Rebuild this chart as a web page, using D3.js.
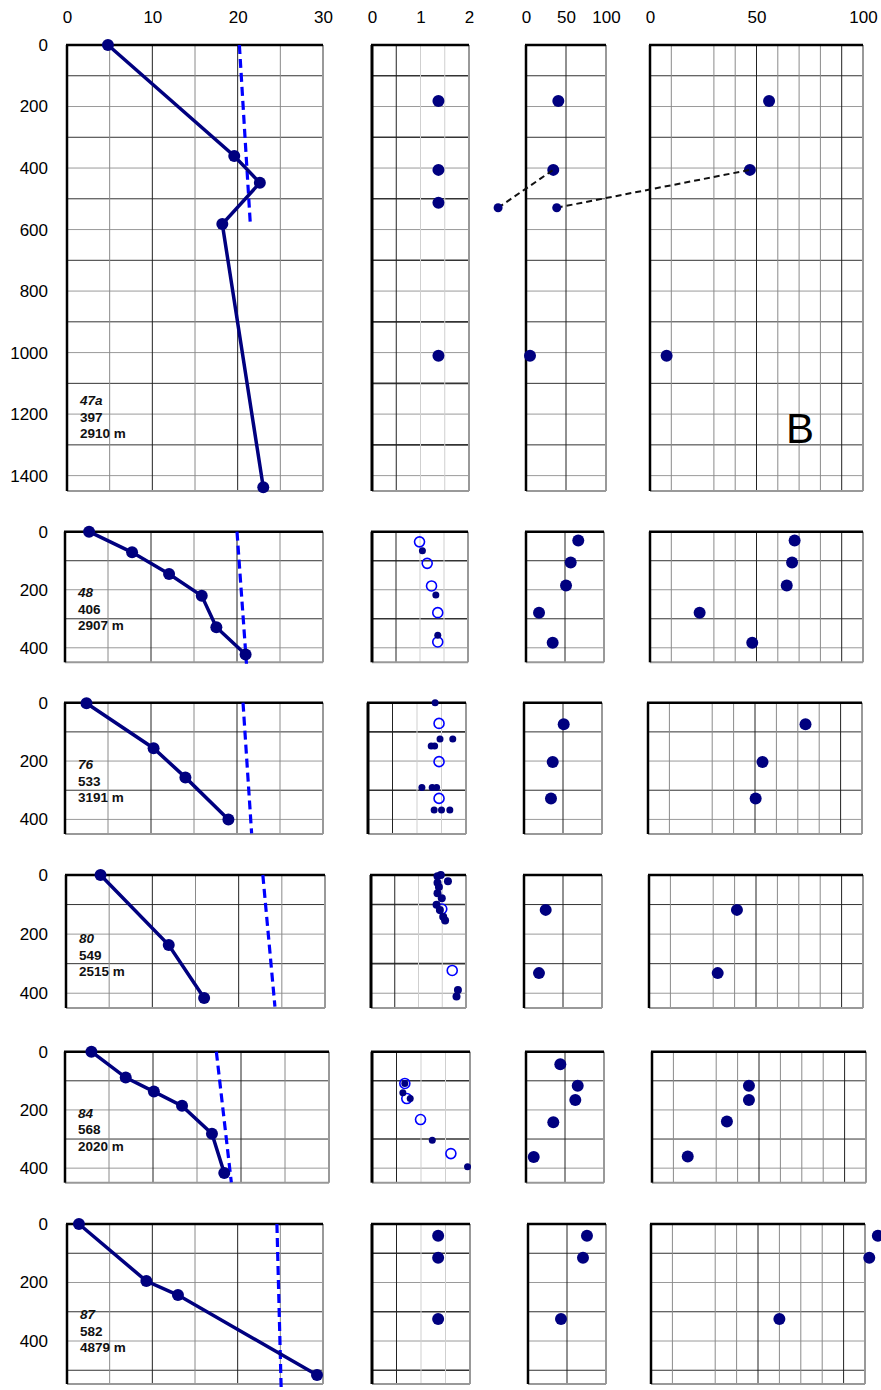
<!DOCTYPE html>
<html>
<head>
<meta charset="utf-8">
<script src="https://cdn.jsdelivr.net/npm/d3@7"></script>
<style>
  body { margin: 0; background: #fff; }
  svg { display: block; }
  text { font-family: "Liberation Sans", Arial, sans-serif; }
</style>
</head>
<body>
<svg id="chart" width="881" height="1390"></svg>
<script>
// wells, one row each
var wells = ["47a", "48", "76", "80", "84", "87"];
var wellCodes = ["397", "406", "533", "549", "568", "582"];
var wellElev = ["2910 m", "2907 m", "3191 m", "2515 m", "2020 m", "4879 m"];

// column 1: measured temperature profile (value, depth)
var tempDepth = [[0, 361, 448, 582, 1438], [0, 71, 146, 221, 329, 423], [2, 156, 256, 400],
                 [0, 237, 416], [0, 89, 137, 186, 282, 417], [0, 195, 243, 516]];
var tempValue = [[4.8, 19.6, 22.6, 18.2, 23.0], [2.8, 7.8, 12.1, 15.9, 17.6, 21.0], [2.5, 10.3, 14.0, 19.0],
                 [4.0, 11.9, 16.0], [3.0, 6.9, 10.1, 13.3, 16.7, 18.1], [1.4, 9.3, 13.0, 29.3]];
// column 1: dashed reference line
var gradDepth = [[0, 590], [0, 455], [0, 448], [0, 445], [0, 449], [0, 565]];
var gradValue = [[20.2, 21.5], [20.0, 21.1], [20.7, 21.7], [22.8, 24.2], [17.2, 18.9], [24.6, 25.1]];

// column 2: filled and open markers
var c2FillDepth = [[182, 406, 513, 1010], [66, 218, 357],
                   [0, 124, 124, 148, 148, 291, 291, 291, 368, 368, 368],
                   [0, 4, 21, 26, 41, 62, 79, 101, 118, 141, 154, 389, 411],
                   [109, 141, 161, 304, 395], [40, 115, 325]];
var c2FillValue = [[1.37, 1.37, 1.37, 1.37], [1.05, 1.33, 1.37],
                   [1.37, 1.47, 1.73, 1.29, 1.36, 1.10, 1.31, 1.40, 1.35, 1.50, 1.67],
                   [1.47, 1.40, 1.62, 1.40, 1.43, 1.40, 1.49, 1.38, 1.45, 1.52, 1.56, 1.83, 1.80],
                   [0.67, 0.63, 0.78, 1.23, 1.95], [1.35, 1.35, 1.35]];
var c2OpenDepth = [[], [35, 109, 187, 279, 380], [71, 202, 328], [115, 323], [109, 161, 233, 350], []];
var c2OpenValue = [[], [0.99, 1.15, 1.24, 1.37, 1.37], [1.45, 1.45, 1.45], [1.49, 1.71], [0.67, 0.71, 0.99, 1.61], []];

// column 3
var c3Depth = [[182, 406, 1010], [30, 106, 185, 279, 383], [74, 203, 328], [118, 332], [43, 117, 166, 242, 362], [40, 115, 325]];
var c3Value = [[40.4, 34.1, 5], [67, 57.3, 51.3, 16.7, 34.2], [50.9, 36.8, 34.6], [27.8, 19.2], [44, 66.3, 63.2, 35, 9.9], [75.6, 70.5, 42.3]];

// column 4
var c4Depth = [[182, 406, 1010], [30, 106, 185, 279, 383], [74, 203, 328], [118, 332], [117, 166, 240, 360], [40, 115, 325]];
var c4Value = [[55.9, 46.9, 7.8], [67.9, 66.7, 64.2, 23.3, 48.0], [73.6, 53.5, 50.3], [41.1, 32.1], [45.3, 45.3, 35, 16.7], [106, 102, 60]];

// well 47a: the two outlying markers tied by dashed leaders
var linkDepth = 529;
var linkC2Value = 2.6;
var linkC3Value = 38.4;

var colDomains = [[0, 30], [0, 2], [0, 100], [0, 100]];
var colTicks = [[0, 10, 20, 30], [0, 1, 2], [0, 50, 100], [0, 50, 100]];
var colGrid = [[5, 10, 15, 20, 25], [0.5, 1, 1.5], [50], [10, 30, 40, 50, 60, 70, 80, 90]];
var colGridDark = [[10, 20], [0.5], [50], [50, 90]];

// layout: [top, bottom, max depth] per row, and x extents of each panel
var rowBox = [[45, 491, 1450], [531.7, 662.3, 450], [702.7, 834, 450], [875, 1008, 450], [1051.7, 1182.7, 450], [1224, 1384, 547]];
var colBox = [
    [[67, 323], [372, 469], [526, 606], [650, 863]],
    [[65, 323], [372, 468], [526, 604], [650, 863]],
    [[65, 323], [368, 466], [524, 602], [648, 862]],
    [[66, 325], [371, 466], [524, 602], [649, 863]],
    [[65, 329], [372, 470], [526, 604], [652, 866]],
    [[67, 323], [372, 470], [528, 606], [651, 865]]
];
var smallDot = [6, 3.5, 3.5, 4, 3.5, 6];

var navy = "#00007f", blue = "#0000ff";
var svg = d3.select("#chart");

// top axis labels
colBox[0].forEach(function (b, c) {
    var x = d3.scaleLinear().domain(colDomains[c]).range(b);
    var ax = svg.append("g").attr("transform", "translate(0,22.7)")
        .call(d3.axisTop(x).tickValues(colTicks[c]).tickSize(0).tickPadding(0).tickFormat(d3.format("d")));
    ax.select(".domain").remove();
    ax.selectAll("text").attr("font-size", 17).attr("font-family", "Liberation Sans, Arial, sans-serif").attr("fill", "#000");
});

wells.forEach(function (w, i) {
    var top = rowBox[i][0], bottom = rowBox[i][1], dmax = rowBox[i][2];
    var y = d3.scaleLinear().domain([0, dmax]).range([top, bottom]);
    var xs = colBox[i].map(function (b, c) { return d3.scaleLinear().domain(colDomains[c]).range(b); });
    var row = svg.append("g").attr("class", "row");

    // y labels
    var ya = row.append("g").attr("transform", "translate(48,0)")
        .call(d3.axisLeft(y).tickValues(d3.range(0, dmax - 20, 200)).tickSize(0).tickPadding(0).tickFormat(d3.format("d")));
    ya.select(".domain").remove();
    ya.selectAll("text").attr("font-size", 17).attr("font-family", "Liberation Sans, Arial, sans-serif").attr("fill", "#000");

    xs.forEach(function (x, c) {
        var p = row.append("g");
        var x0 = x.range()[0], x1 = x.range()[1];
        p.selectAll("line.h").data(d3.range(100, dmax, 100)).join("line")
            .attr("x1", x0).attr("x2", x1).attr("y1", y).attr("y2", y)
            .attr("stroke", function (d) { return d % 200 === 0 ? "#9a9a9a" : "#333"; })
            .attr("stroke-width", function (d) { return (c === 1 && d % 200 !== 0) ? 1.6 : 1; });
        p.selectAll("line.v").data(colGrid[c]).join("line")
            .attr("y1", top).attr("y2", bottom).attr("x1", x).attr("x2", x)
            .attr("stroke", function (d) { return colGridDark[c].indexOf(d) >= 0 ? "#222" : (c === 1 ? "#cfcfcf" : "#8a8a8a"); })
            .attr("stroke-width", 1);
        // frame: right / bottom grey, top / left black
        p.append("line").attr("x1", x1).attr("x2", x1).attr("y1", top).attr("y2", bottom).attr("stroke", "#999").attr("stroke-width", 2);
        p.append("line").attr("x1", x0).attr("x2", x1).attr("y1", bottom).attr("y2", bottom).attr("stroke", "#999").attr("stroke-width", 2);
        p.append("line").attr("x1", x0 - 1).attr("x2", x1).attr("y1", top).attr("y2", top).attr("stroke", "#000").attr("stroke-width", 2.5);
        p.append("line").attr("x1", x0).attr("x2", x0).attr("y1", top).attr("y2", bottom).attr("stroke", "#000").attr("stroke-width", c === 1 ? 3 : 2.5);
    });

    // column 1
    var xt = xs[0];
    row.append("path")
        .datum(d3.zip(gradValue[i], gradDepth[i]))
        .attr("d", d3.line().x(function (d) { return xt(d[0]); }).y(function (d) { return y(d[1]); }))
        .attr("fill", "none").attr("stroke", blue).attr("stroke-width", 3.2).attr("stroke-dasharray", "9,5");
    var temp = d3.zip(tempValue[i], tempDepth[i]);
    row.append("path").datum(temp)
        .attr("d", d3.line().x(function (d) { return xt(d[0]); }).y(function (d) { return y(d[1]); }))
        .attr("fill", "none").attr("stroke", navy).attr("stroke-width", 3.5);
    row.selectAll("circle.t").data(temp).join("circle")
        .attr("cx", function (d) { return xt(d[0]); }).attr("cy", function (d) { return y(d[1]); })
        .attr("r", 6).attr("fill", navy);

    var lab = row.append("text").attr("font-size", 13.5).attr("font-weight", "bold").attr("fill", "#111");
    var labBase = i === 0 ? 405 : bottom - 65;
    [wells[i], wellCodes[i], wellElev[i]].forEach(function (s, k) {
        lab.append("tspan").attr("x", xt(0) + 13).attr("y", labBase + k * 16.5)
            .attr("font-style", k === 0 ? "italic" : "normal").text(s);
    });

    // column 2
    var x2 = xs[1];
    row.selectAll("circle.o").data(d3.zip(c2OpenValue[i], c2OpenDepth[i])).join("circle")
        .attr("cx", function (d) { return x2(d[0]); }).attr("cy", function (d) { return y(d[1]); })
        .attr("r", 5).attr("fill", "none").attr("stroke", blue).attr("stroke-width", 1.6);
    row.selectAll("circle.f2").data(d3.zip(c2FillValue[i], c2FillDepth[i])).join("circle")
        .attr("cx", function (d) { return x2(d[0]); }).attr("cy", function (d) { return y(d[1]); })
        .attr("r", smallDot[i]).attr("fill", navy);

    // columns 3 and 4
    [[c3Value, c3Depth, 2], [c4Value, c4Depth, 3]].forEach(function (s) {
        var xc = xs[s[2]];
        row.selectAll("circle.c" + s[2]).data(d3.zip(s[0][i], s[1][i])).join("circle")
            .attr("cx", function (d) { return xc(d[0]); }).attr("cy", function (d) { return y(d[1]); })
            .attr("r", 6).attr("fill", navy);
    });

    if (i === 0) {
        var leader = [[x2(linkC2Value), y(linkDepth), xs[2](c3Value[0][1]), y(c3Depth[0][1])],
                      [xs[2](linkC3Value), y(linkDepth), xs[3](c4Value[0][1]), y(c4Depth[0][1])]];
        row.selectAll("line.lead").data(leader).join("line")
            .attr("x1", function (d) { return d[0]; }).attr("y1", function (d) { return d[1]; })
            .attr("x2", function (d) { return d[2]; }).attr("y2", function (d) { return d[3]; })
            .attr("stroke", "#111").attr("stroke-width", 2).attr("stroke-dasharray", "6,4");
        row.selectAll("circle.lk").data([[x2(linkC2Value), y(linkDepth)], [xs[2](linkC3Value), y(linkDepth)]]).join("circle")
            .attr("cx", function (d) { return d[0]; }).attr("cy", function (d) { return d[1]; })
            .attr("r", 4.5).attr("fill", navy);
        row.append("text").attr("x", 786).attr("y", 443).attr("font-size", 42).attr("fill", "#000").text("B");
    }
});
</script>
</body>
</html>
